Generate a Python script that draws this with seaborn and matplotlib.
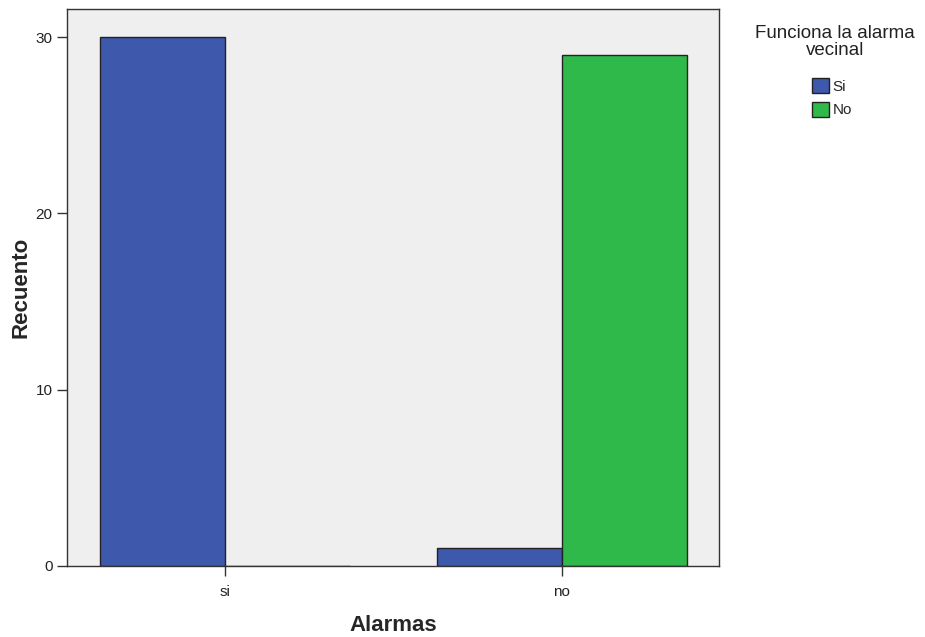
import pandas as pd
import numpy as np
import matplotlib
matplotlib.use('Agg')
import matplotlib.pyplot as plt
import seaborn as sns

# data
alarmas = ['si', 'si', 'no', 'no']
funciona = ['Si', 'No', 'Si', 'No']
recuento = [30, 0, 1, 29]
colores = {'Si': '#3E58AB', 'No': '#2FB94A'}

data = pd.DataFrame({'Alarmas': alarmas, 'Funciona': funciona, 'Recuento': recuento})

sns.set_style('white')
plt.rcParams['font.family'] = ['Liberation Sans', 'DejaVu Sans']

fig = plt.figure(figsize=(9.25, 6.37), dpi=100)
ax = fig.add_axes([0.0724, 0.1115, 0.7049, 0.8744])
ax.set_facecolor('#EFEFEF')

sns.barplot(data=data, x='Alarmas', y='Recuento', hue='Funciona',
            order=['si', 'no'], hue_order=['Si', 'No'], palette=colores,
            saturation=1, width=0.742, edgecolor='#222222', linewidth=1, ax=ax)

ax.set_ylim(0, 31.6)
ax.set_xlim(-0.469, 1.466)
ax.set_yticks([0, 10, 20, 30])

for s in ax.spines.values():
    s.set_color('#333333')
    s.set_linewidth(1)

ax.tick_params(axis='both', length=7.5, width=1, color='#333333', direction='out',
               labelsize=11, labelcolor='#222222')
ax.tick_params(axis='x', pad=6)
ax.tick_params(axis='y', pad=3)
ax.tick_params(left=True, bottom=True)

ax.set_xlabel('Alarmas', fontsize=16, fontweight='bold', labelpad=12)
ax.set_ylabel('Recuento', fontsize=16, fontweight='bold', labelpad=3)

# legend: title as separate text, entries below it
handles, labels = ax.get_legend_handles_labels()
ax.legend_.remove()
fig.text(835 / 925, 1 - 42 / 637, 'Funciona la alarma\nvecinal', ha='center', va='center',
         fontsize=13.5, color='#222222', linespacing=1.05)
fig.legend(handles, labels, loc='upper left', bbox_to_anchor=(812 / 925, 1 - 78 / 637),
           frameon=False, fontsize=11, borderpad=0, borderaxespad=0,
           handlelength=1.1, handleheight=1.1, handletextpad=0.25,
           labelspacing=0.55)

fig.savefig('out.png', dpi=100)
